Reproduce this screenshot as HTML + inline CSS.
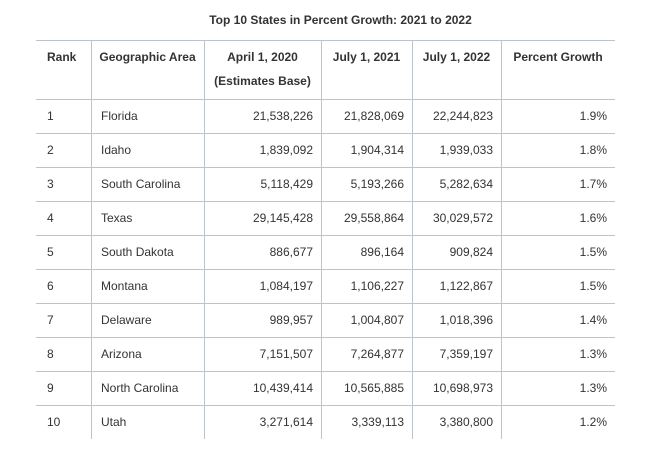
<!DOCTYPE html>
<html><head><meta charset="utf-8"><style>
body{margin:0;width:649px;height:453px;background:#fff;font-family:"Liberation Sans",Arial,sans-serif;color:#333;position:relative;overflow:hidden}
.t{position:absolute;font-size:12px;white-space:nowrap}
.b{font-weight:bold}
.h{position:absolute;left:36px;width:579px;height:1px;background:#bcc3cb}
.v{position:absolute;width:1px;background:#bcc3cb}
</style></head><body>
<div class="t b" style="left:0;width:681px;text-align:center;top:13px">Top 10 States in Percent Growth: 2021 to 2022</div>
<div id="tbl"></div>
<script>
const ranks=[1,2,3,4,5,6,7,8,9,10];
const states=["Florida","Idaho","South Carolina","Texas","South Dakota","Montana","Delaware","Arizona","North Carolina","Utah"];
const base2020=["21,538,226","1,839,092","5,118,429","29,145,428","886,677","1,084,197","989,957","7,151,507","10,439,414","3,271,614"];
const jul2021=["21,828,069","1,904,314","5,193,266","29,558,864","896,164","1,106,227","1,004,807","7,264,877","10,565,885","3,339,113"];
const jul2022=["22,244,823","1,939,033","5,282,634","30,029,572","909,824","1,122,867","1,018,396","7,359,197","10,698,973","3,380,800"];
const growth=["1.9%","1.8%","1.7%","1.6%","1.5%","1.5%","1.4%","1.3%","1.3%","1.2%"];
const T=document.getElementById('tbl');
function add(cls,style,txt,name){const d=document.createElement('div');d.className=cls;d.style.cssText=style;if(txt!==undefined)d.textContent=txt;


T.appendChild(d);}
// lines
add('h','top:40px',undefined,'header-top-border');
for(let i=0;i<=9;i++){add('h','top:'+(99+i*34)+'px',undefined,'row-border');}
[91,204,321,412,501].forEach(x=>add('v','left:'+x+'px;top:40px;height:399px',undefined,'column-border'));
// headers
add('t b','left:47px;top:50px','Rank','header-rank');
add('t b','left:91px;width:113px;text-align:center;top:50px','Geographic Area','header-area');
add('t b','left:204px;width:117px;text-align:center;top:50px','April 1, 2020','header-april-2020');
add('t b','left:204px;width:117px;text-align:center;top:74px','(Estimates Base)','header-estimates-base');
add('t b','left:321px;width:91px;text-align:center;top:50px','July 1, 2021','header-july-2021');
add('t b','left:412px;width:89px;text-align:center;top:50px','July 1, 2022','header-july-2022');
add('t b','left:501px;width:114px;text-align:center;top:50px','Percent Growth','header-percent-growth');
for(let i=0;i<ranks.length;i++){
 const y=109+i*34;
 add('t','left:47px;top:'+y+'px',String(ranks[i]),'rank-cell');
 add('t','left:101px;top:'+y+'px',states[i],'state-cell');
 add('t','right:'+(649-313)+'px;top:'+y+'px',base2020[i],'base-2020-cell');
 add('t','right:'+(649-404)+'px;top:'+y+'px',jul2021[i],'july-2021-cell');
 add('t','right:'+(649-493)+'px;top:'+y+'px',jul2022[i],'july-2022-cell');
 add('t','right:'+(649-607)+'px;top:'+y+'px',growth[i],'growth-cell');
}
</script>
</body></html>
